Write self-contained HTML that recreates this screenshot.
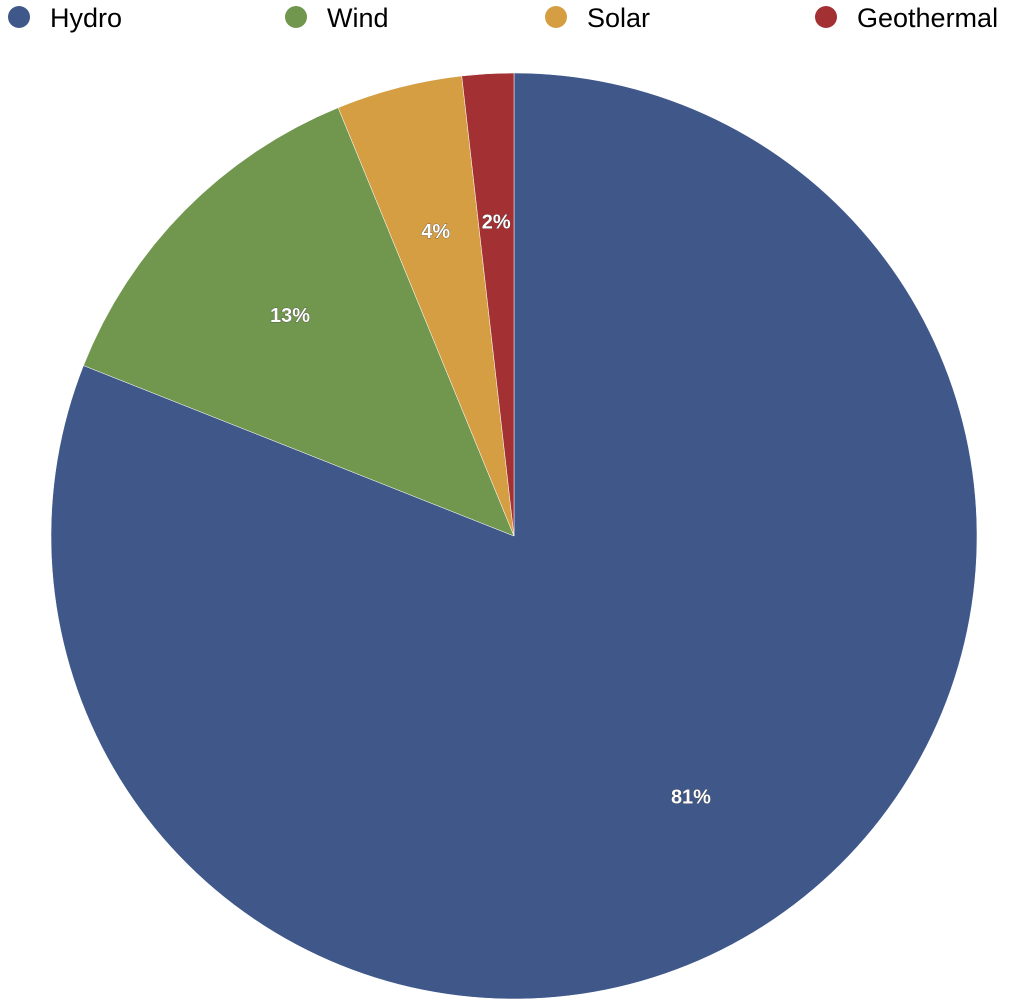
<!DOCTYPE html>
<html><head><meta charset="utf-8"><style>
html,body{margin:0;padding:0;background:#fff;}
svg{display:block;font-family:"Liberation Sans",sans-serif;}
</style></head><body>
<svg id="chart" width="1024" height="1008" viewBox="0 0 1024 1008"></svg>
<script>
const categories = ["Hydro","Wind","Solar","Geothermal"];
const values = [81.0, 12.8, 4.4, 1.8];
const colors = ["#3f5889","#71964d","#d59e42","#a33134"];
const legendX = [19, 296, 556, 826];
const svg = document.getElementById('chart');
const NS = 'http://www.w3.org/2000/svg';
const cx = 514, cy = 536, r = 463;
const total = values.reduce((a,b)=>a+b,0);
function pt(a, rad){ return [cx + rad*Math.sin(a), cy - rad*Math.cos(a)]; }
let a0 = 0;
const labels = [];
values.forEach((v,i)=>{
  const a1 = a0 + v/total*2*Math.PI;
  const p0 = pt(a0,r), p1 = pt(a1,r);
  const large = (a1-a0) > Math.PI ? 1 : 0;
  const path = document.createElementNS(NS,'path');
  path.setAttribute('d',`M${cx},${cy} L${p0[0]},${p0[1]} A${r},${r} 0 ${large} 1 ${p1[0]},${p1[1]} Z`);
  path.setAttribute('fill',colors[i]);
  path.setAttribute('stroke','#fff');
  path.setAttribute('stroke-width','0.5');
  
  
  svg.appendChild(path);
  const m = (a0+a1)/2;
  const lp = pt(m, r*0.68);
  labels.push([lp, Math.round(v/total*100)+'%', categories[i]]);
  a0 = a1;
});
labels.forEach(l=>{
  const t = document.createElementNS(NS,'text');
  t.setAttribute('x',l[0][0]); t.setAttribute('y',l[0][1]+7);
  t.setAttribute('text-anchor','middle');
  t.setAttribute('font-size','20'); t.setAttribute('font-weight','bold');
  t.setAttribute('fill','#fff');
  t.setAttribute('stroke','#333'); t.setAttribute('stroke-width','0.6'); t.setAttribute('paint-order','stroke');
  
  
  t.textContent = l[1];
  svg.appendChild(t);
});
categories.forEach((c,i)=>{
  const g = document.createElementNS(NS,'g');
  
  
  const ci = document.createElementNS(NS,'circle');
  ci.setAttribute('cx',legendX[i]); ci.setAttribute('cy',17); ci.setAttribute('r',11);
  ci.setAttribute('fill',colors[i]);
  g.appendChild(ci);
  const t = document.createElementNS(NS,'text');
  t.setAttribute('x',legendX[i]+31); t.setAttribute('y',27);
  t.setAttribute('font-size','27'); t.setAttribute('fill','#000');
  t.textContent = c;
  g.appendChild(t);
  svg.appendChild(g);
});
</script>
</body></html>
